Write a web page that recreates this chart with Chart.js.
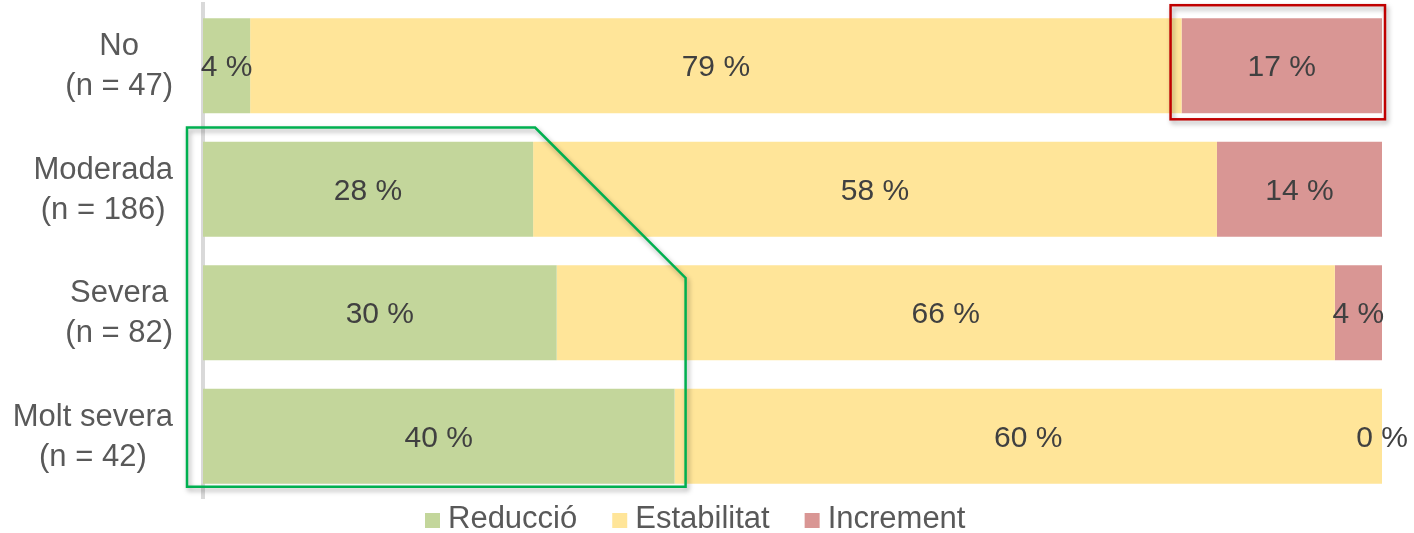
<!DOCTYPE html>
<html lang="ca">
<head>
<meta charset="utf-8">
<title>Evolució segons severitat</title>
<script src="https://cdn.jsdelivr.net/npm/chart.js@4.4.1/dist/chart.umd.min.js"></script>
<style>
  html, body { margin: 0; padding: 0; background: #fff; }
  #wrap { position: relative; width: 1414px; height: 533px; }
</style>
</head>
<body>
<div id="wrap"><canvas id="chart"></canvas></div>
<script>
// grups (dues línies per etiqueta) i percentatges de cada sèrie
const categories = [['No', '(n = 47)'], ['Moderada', '(n = 186)'], ['Severa', '(n = 82)'], ['Molt severa', '(n = 42)']];
const reduccio = [4, 28, 30, 40];
const estabilitat = [79, 58, 66, 60];
const increment = [17, 14, 4, 0];
const seriesNames = ['Reducció', 'Estabilitat', 'Increment'];
const seriesColors = ['#c3d69b', '#ffe599', '#d99694'];

const FONT = "'Liberation Sans', Arial, sans-serif";

// percentatge al mig de cada tram
const segmentLabels = {
  id: 'segmentLabels',
  afterDatasetsDraw(chart) {
    const ctx = chart.ctx;
    ctx.save();
    ctx.font = '30px ' + FONT;
    ctx.fillStyle = '#404040';
    ctx.textAlign = 'center';
    ctx.textBaseline = 'middle';
    chart.data.datasets.forEach((ds, i) => {
      chart.getDatasetMeta(i).data.forEach((bar, j) => {
        const p = bar.getCenterPoint();
        ctx.fillText(ds.data[j] + ' %', p.x, p.y + 2);
      });
    });
    ctx.restore();
  }
};

// etiquetes de l'eix Y: bloc alineat a la dreta, línies centrades entre elles
const groupLabels = {
  id: 'groupLabels',
  afterDraw(chart) {
    const ctx = chart.ctx;
    const yScale = chart.scales.y;
    const right = chart.chartArea.left - 30;
    ctx.save();
    ctx.font = '31px ' + FONT;
    ctx.fillStyle = '#595959';
    ctx.textAlign = 'center';
    ctx.textBaseline = 'middle';
    categories.forEach((lines, j) => {
      const w = Math.max(...lines.map(l => ctx.measureText(l).width));
      const cx = right - w / 2;
      const cy = yScale.getPixelForValue(j);
      lines.forEach((l, k) => {
        ctx.fillText(l, cx, cy + (k - (lines.length - 1) / 2) * 40 + 1);
      });
    });
    ctx.restore();
  }
};

// marcs de ressalt: increment del grup "No" i reducció dels grups greus
const highlights = {
  id: 'highlights',
  afterDatasetsDraw(chart) {
    const ctx = chart.ctx;
    const x = chart.scales.x;
    const bars0 = chart.getDatasetMeta(0).data;
    const incNo = chart.getDatasetMeta(2).data[0];
    ctx.save();
    ctx.shadowColor = 'rgba(0,0,0,0.35)';
    ctx.shadowBlur = 5;
    ctx.shadowOffsetX = 2;
    ctx.shadowOffsetY = 3;
    ctx.lineWidth = 2.5;

    // vermell
    const h = incNo.height / 2;
    ctx.strokeStyle = '#c00000';
    ctx.strokeRect(incNo.base - 11, incNo.y - h - 13, incNo.x - incNo.base + 14, 2 * h + 19);

    // verd
    const top = (bars0[0].y + bars0[0].height / 2 + bars0[1].y - bars0[1].height / 2) / 2;
    const left = x.getPixelForValue(0) - 16;
    const c1 = x.getPixelForValue(reduccio[1]) + 2;
    const c2 = x.getPixelForValue(reduccio[3]) + 11;
    const yDiag = top + (c2 - c1);
    const bottom = bars0[3].y + bars0[3].height / 2 + 3;
    ctx.strokeStyle = '#00b050';
    ctx.beginPath();
    ctx.moveTo(left, top);
    ctx.lineTo(c1, top);
    ctx.lineTo(c2, yDiag);
    ctx.lineTo(c2, bottom);
    ctx.lineTo(left, bottom);
    ctx.closePath();
    ctx.stroke();
    ctx.restore();
  }
};

// llegenda a sota
const bottomLegend = {
  id: 'bottomLegend',
  afterDraw(chart) {
    const ctx = chart.ctx;
    const baseline = 528;
    let xPos = 425;
    ctx.save();
    ctx.font = '31px ' + FONT;
    ctx.textBaseline = 'alphabetic';
    ctx.textAlign = 'left';
    seriesNames.forEach((name, i) => {
      ctx.fillStyle = seriesColors[i];
      ctx.fillRect(xPos, baseline - 15, 15, 15);
      xPos += 23;
      ctx.fillStyle = '#595959';
      ctx.fillText(name, xPos, baseline);
      xPos += ctx.measureText(name).width + 35;
    });
    ctx.restore();
  }
};

new Chart(document.getElementById('chart'), {
  type: 'bar',
  data: {
    labels: categories,
    datasets: [
      { label: seriesNames[0], data: reduccio, backgroundColor: seriesColors[0] },
      { label: seriesNames[1], data: estabilitat, backgroundColor: seriesColors[1] },
      { label: seriesNames[2], data: increment, backgroundColor: seriesColors[2] }
    ]
  },
  options: {
    indexAxis: 'y',
    responsive: true,
    maintainAspectRatio: false,
    animation: false,
    categoryPercentage: 1,
    barPercentage: 0.77,
    layout: { padding: { top: 4, right: 32, bottom: 35, left: 0 } },
    plugins: {
      legend: { display: false },
      tooltip: { enabled: false }
    },
    scales: {
      x: { stacked: true, min: 0, max: 100, display: false },
      y: {
        stacked: true,
        grid: { display: false },
        border: { display: true, color: '#d9d9d9', width: 4 },
        ticks: { display: false },
        afterFit(scale) { scale.width = 203; }
      }
    }
  },
  plugins: [segmentLabels, highlights, groupLabels, bottomLegend]
});
</script>
</body>
</html>
